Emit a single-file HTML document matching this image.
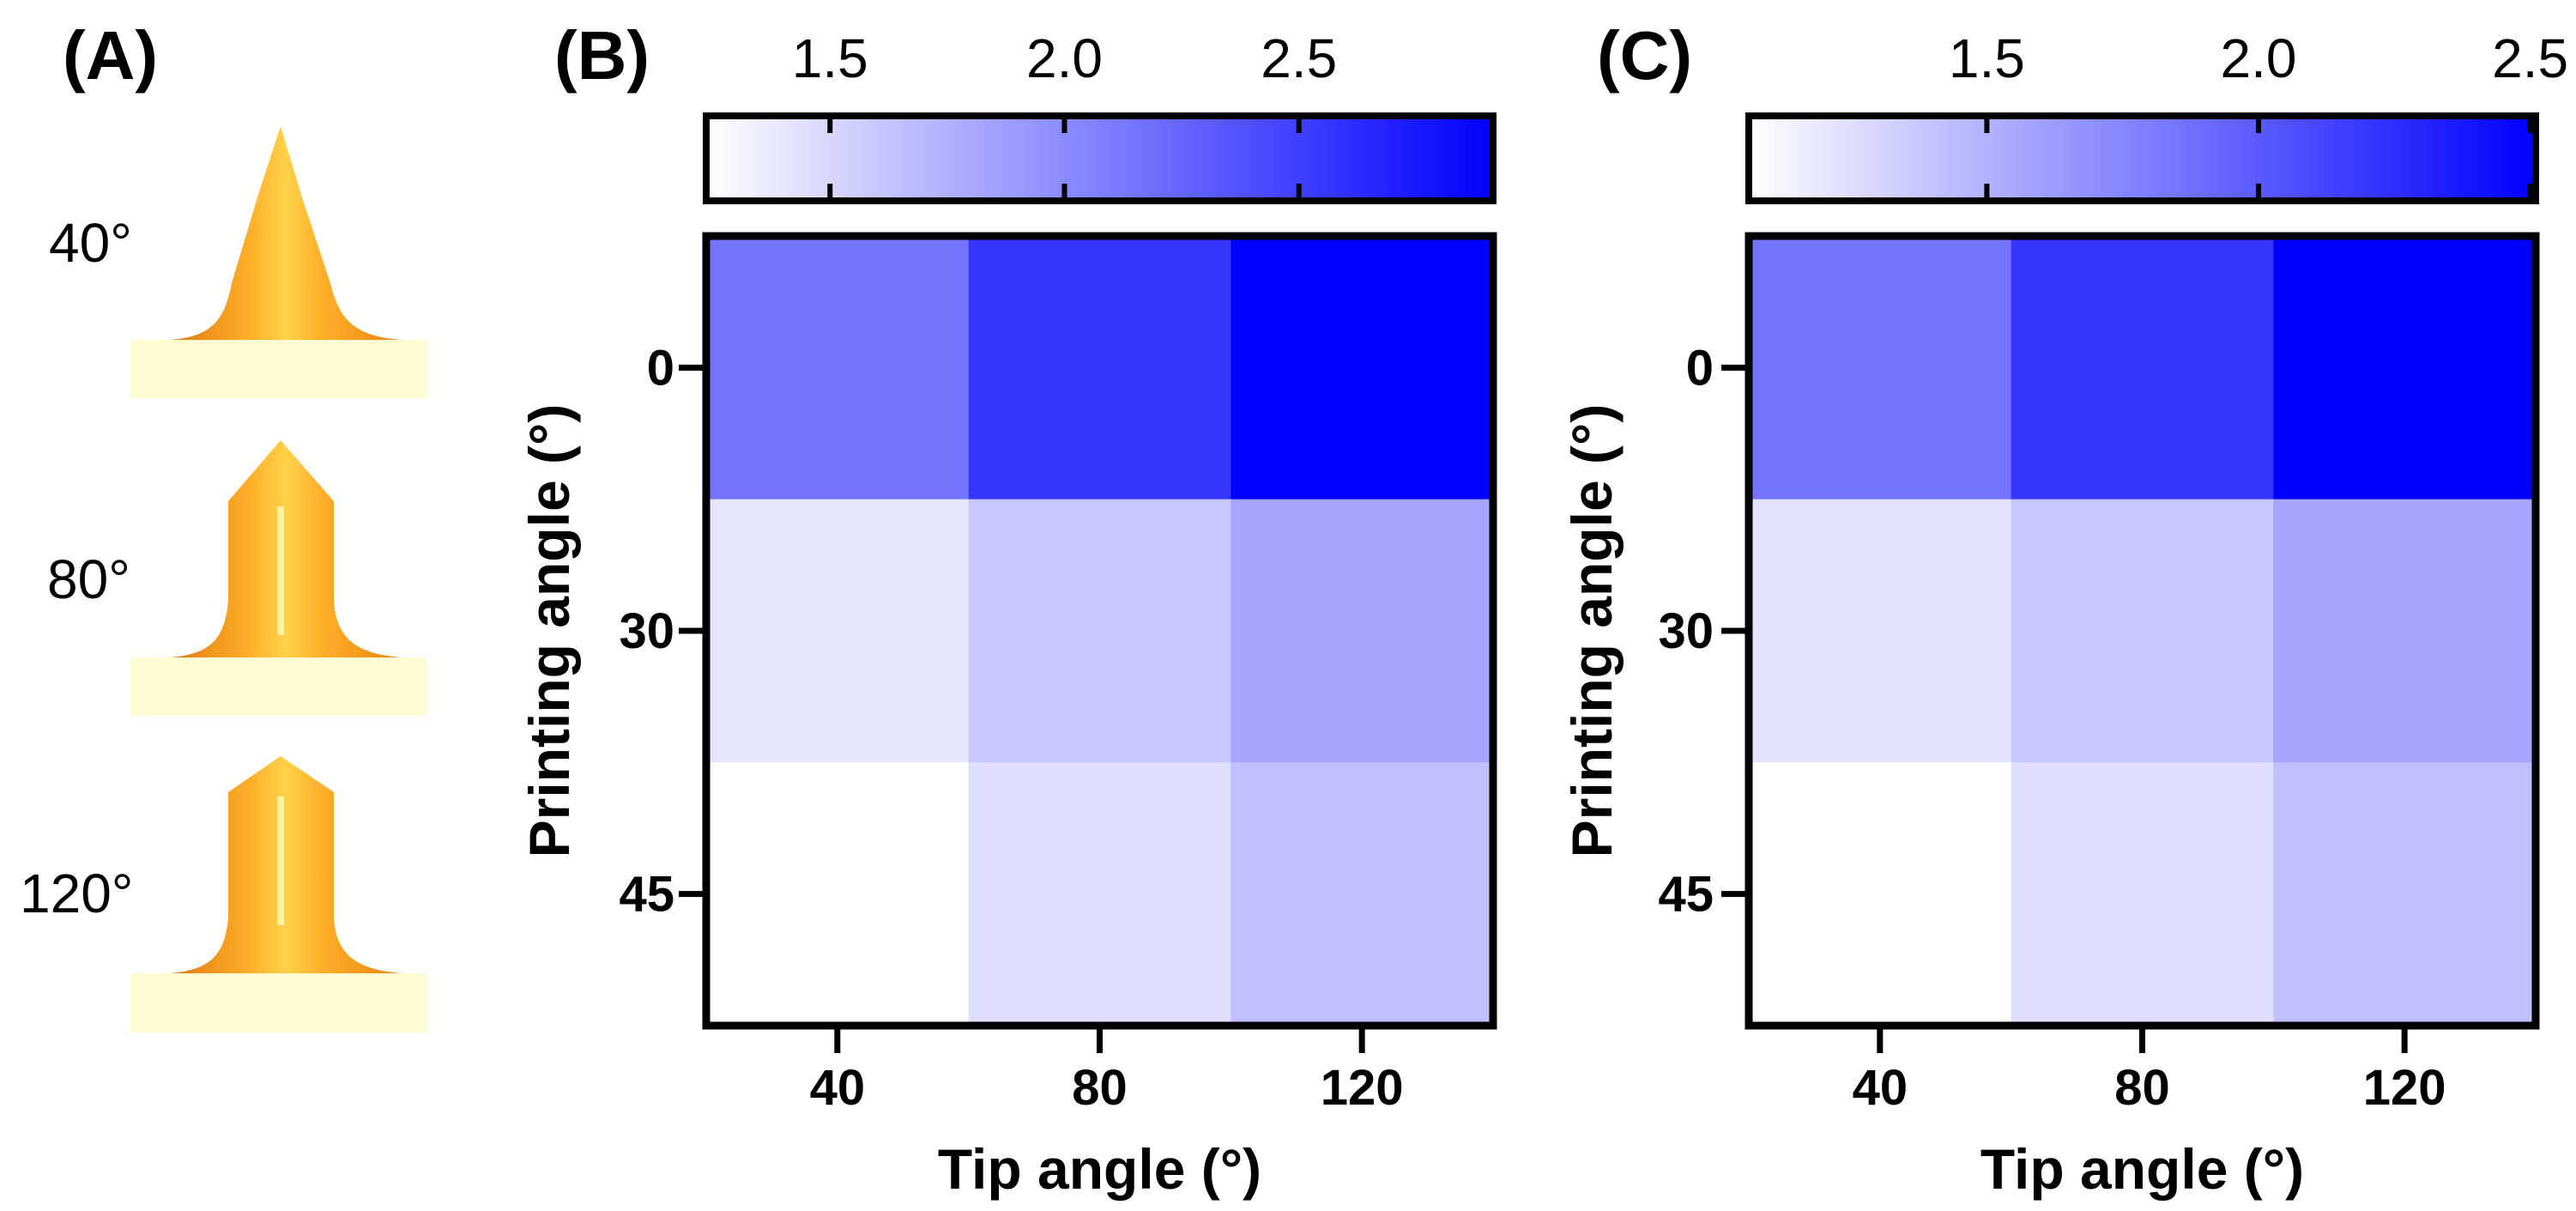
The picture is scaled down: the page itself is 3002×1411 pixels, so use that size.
<!DOCTYPE html>
<html><head><meta charset="utf-8"><style>
html,body{margin:0;padding:0;background:#fff;}
svg{display:block;font-family:"Liberation Sans",Arial,sans-serif;}
</style></head><body>
<svg id="fig" width="3002" height="1411" viewBox="0 0 3002 1411" xmlns="http://www.w3.org/2000/svg">
<defs>
<linearGradient id="tipg" x1="0" x2="1" y1="0" y2="0">
<stop offset="0" stop-color="#E07A10"/><stop offset="0.35" stop-color="#FFB02A"/><stop offset="0.5" stop-color="#FFD24A"/><stop offset="0.65" stop-color="#FFB02A"/><stop offset="1" stop-color="#E8840F"/>
</linearGradient>
<linearGradient id="cbg" x1="0" x2="1" y1="0" y2="0"><stop offset="0" stop-color="#ffffff"/><stop offset="1" stop-color="#0000ff"/></linearGradient>
</defs>
<g>
<text x="73" y="92" font-size="80" font-weight="bold">(A)</text>
<text x="57" y="305" font-size="64">40°</text>
<text x="55" y="697" font-size="64">80°</text>
<text x="23" y="1063" font-size="64">120°</text>
<rect x="152" y="396" width="346" height="68" fill="#FFFAD2"/>
<path d="M198 396 C250 392 262 370 270 330 L300 230 L327 147 L352 230 L385 330 C395 370 410 392 469 396 Z" fill="url(#tipg)"/>
<rect x="152" y="766" width="346" height="68" fill="#FFFAD2"/>
<path d="M198 766 C250 762 262 740 266 700 L266 584 L327 513 L389 584 L389 700 C392 740 410 762 469 766 Z" fill="url(#tipg)"/>
<rect x="323" y="590" width="8" height="150" fill="#FFF2A0"/>
<rect x="152" y="1134" width="346" height="69" fill="#FFFAD2"/>
<path d="M198 1134 C250 1130 262 1108 266 1070 L266 923 L327 881 L389 923 L389 1070 C392 1108 410 1130 469 1134 Z" fill="url(#tipg)"/>
<rect x="323" y="928" width="8" height="150" fill="#FFF2A0"/>
</g>
<g id="pb"></g>
<g id="pc"></g>
</svg>
<script>
const tipAngles = ["40","80","120"];
const printAngles = ["0","30","45"];
const valuesB = [[2.15,2.56,2.91],[1.41,1.60,1.83],[1.24,1.45,1.65]];
const valuesC = [[1.85,2.21,2.51],[1.22,1.38,1.57],[1.06,1.25,1.42]];
const rangeB = [1.236,2.914];
const rangeC = [1.062,2.51];
const cbTicksB = [1.5,2.0,2.5];
const cbTicksC = [1.5,2.0,2.5];

const NS="http://www.w3.org/2000/svg";
function mk(parent,tag,attrs){const e=document.createElementNS(NS,tag);for(const k in attrs)e.setAttribute(k,attrs[k]);parent.appendChild(e);return e;}
function color(v,r){let t=(v-r[0])/(r[1]-r[0]);t=Math.max(0,Math.min(1,t));const c=Math.round(255*(1-t));return `rgb(${c},${c},255)`;}

function panel(g,label,vals,range,ticks,x0,labX,ytickRight){
  const x1=x0+917, cbTop=135, cbBot=234, hmTop=275, hmBot=1195;
  const W=x1-x0, H=hmBot-hmTop;
  const cx=v=>x0+(v-range[0])/(range[1]-range[0])*W;
  const col=i=>x0+i*W/tipAngles.length;
  const row=j=>hmTop+j*H/printAngles.length;
  let t=mk(g,'text',{x:labX,y:92,'font-size':80,'font-weight':'bold'});t.textContent=label;
  
  
  let cb=mk(g,'rect',{x:x0,y:cbTop,width:W,height:cbBot-cbTop,fill:'url(#cbg)',stroke:'#000','stroke-width':8});
  
  
  ticks.forEach(v=>{
    const x=cx(v);
    let l1=mk(g,'line',{x1:x,x2:x,y1:cbTop,y2:cbTop+20,stroke:'#000','stroke-width':6});
    
    
    let l2=mk(g,'line',{x1:x,x2:x,y1:cbBot-20,y2:cbBot,stroke:'#000','stroke-width':6});
    
    
    let tl=mk(g,'text',{x:x,y:90,'font-size':64,'text-anchor':'middle'});tl.textContent=v.toFixed(1);
    
    
  });
  vals.forEach((r,j)=>r.forEach((v,i)=>{
    let c=mk(g,'rect',{x:col(i),y:row(j),width:W/3+0.5,height:H/3+0.5,fill:color(v,range)});
    
    
  }));
  let fr=mk(g,'rect',{x:x0,y:hmTop,width:W,height:H,fill:'none',stroke:'#000','stroke-width':9});
  
  
  printAngles.forEach((p,j)=>{
    const y=row(j)+H/6;
    let tk=mk(g,'line',{x1:x0-32,x2:x0,y1:y,y2:y,stroke:'#000','stroke-width':7});
    
    
    let tl=mk(g,'text',{x:ytickRight,y:y+20,'font-size':58,'font-weight':'bold','text-anchor':'end'});tl.textContent=p;
    
    
  });
  tipAngles.forEach((a,i)=>{
    const x=col(i)+W/6;
    let tk=mk(g,'line',{x1:x,x2:x,y1:hmBot,y2:hmBot+32,stroke:'#000','stroke-width':7});
    
    
    let tl=mk(g,'text',{x:x,y:1287,'font-size':58,'font-weight':'bold','text-anchor':'middle'});tl.textContent=a;
    
    
  });
  let xt=mk(g,'text',{x:x0+W/2,y:1385,'font-size':66,'font-weight':'bold','text-anchor':'middle'});xt.textContent='Tip angle (°)';
  
  
  const yx=x0-160, yc=735;
  let yt=mk(g,'text',{x:yx,y:yc,'font-size':66,'font-weight':'bold','text-anchor':'middle',transform:`rotate(-90 ${yx} ${yc})`});yt.textContent='Printing angle (°)';
  
  
}
panel(document.getElementById('pb'),'(B)',valuesB,rangeB,cbTicksB,823,646,786);
panel(document.getElementById('pc'),'(C)',valuesC,rangeC,cbTicksC,2038,1861,1997);
</script>
</body></html>
